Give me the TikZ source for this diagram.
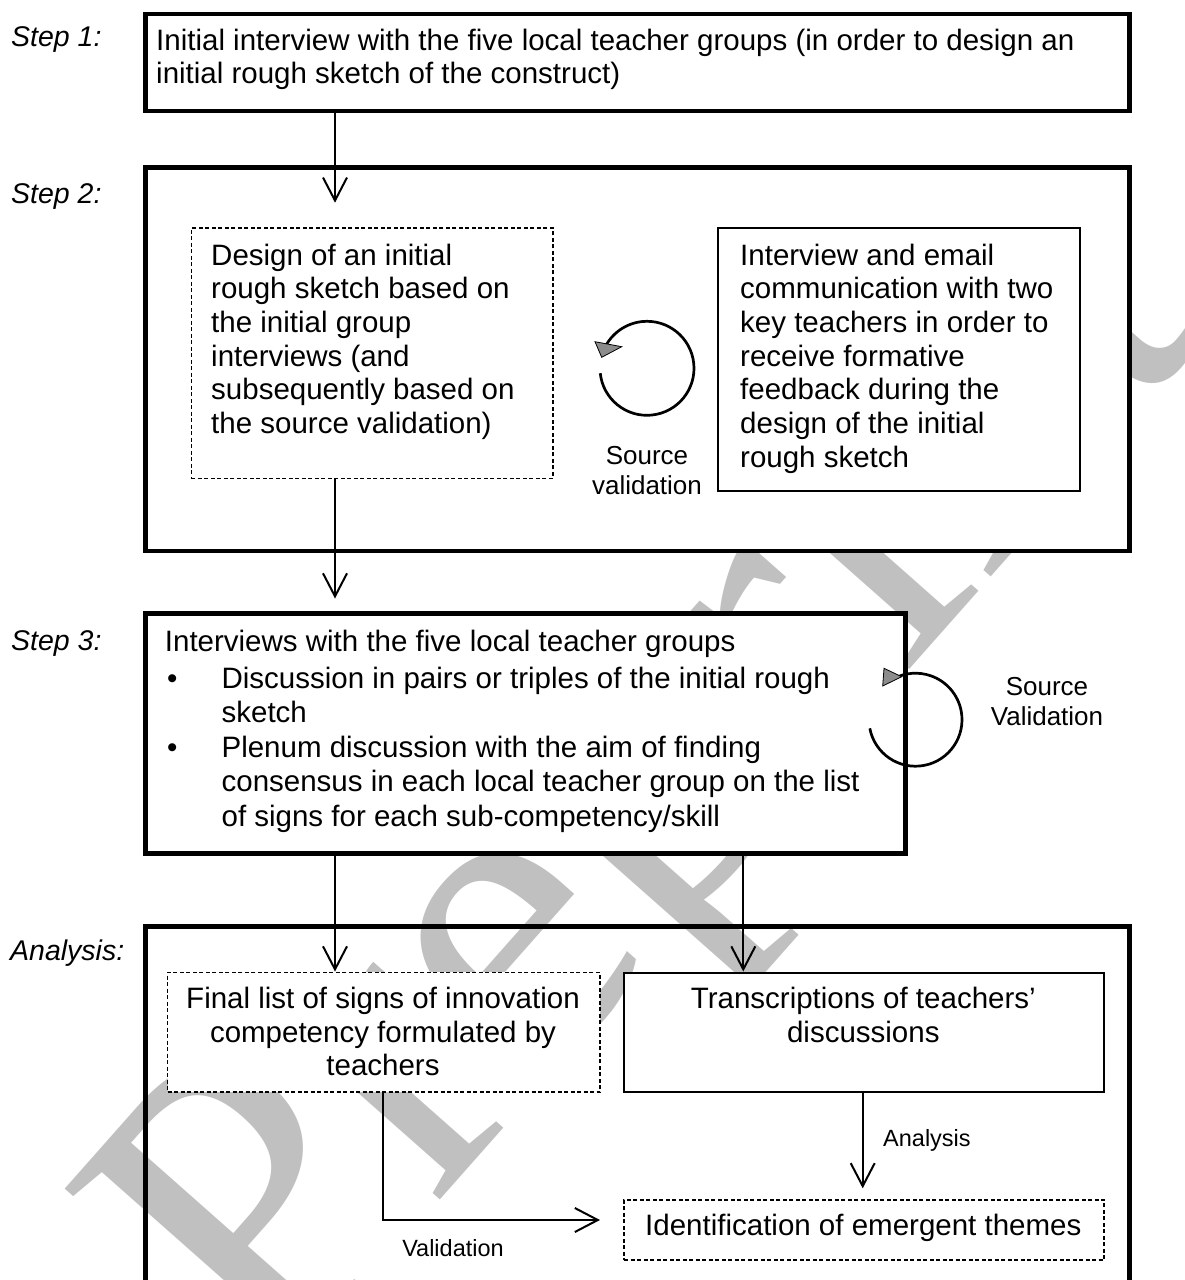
\documentclass[tikz,border=0pt]{standalone}
\usepackage{fontspec}
\setmainfont{Liberation Sans}
\newfontfamily\wmfont{Liberation Serif}
\usetikzlibrary{arrows.meta}
\definecolor{wmgray}{RGB}{192,192,192}
\definecolor{headgray}{RGB}{140,140,140}
\newcommand\fsmain{\fontsize{29.5}{33.6}\selectfont}
\newcommand\fsmid{\fontsize{26}{30}\selectfont}
\newcommand\fssmall{\fontsize{23.5}{27}\selectfont}
\newcommand\fsstep{\fontsize{28.5}{33}\selectfont\itshape}
\tikzset{
  bigbox/.style={draw, line width=4.5pt, fill=white, inner sep=0pt, anchor=north west},
  openbox/.style={draw, line width=4.5pt, inner sep=0pt, anchor=north west},
  solidbox/.style={draw, line width=2pt, fill=white, inner sep=0pt, anchor=north west},
  dashbox/.style={draw, line width=1.6pt, dash pattern=on 4pt off 2.5pt, fill=white, inner sep=0pt, anchor=north west},
  arr/.style={line width=2pt, -{Straight Barb[length=23pt, width=24pt, line width=2pt]}},
  txt/.style={anchor=base west, inner sep=0pt, font=\fsmain},
  ctxt/.style={anchor=base, inner sep=0pt, font=\fsmain},
  steplabel/.style={anchor=base west, inner sep=0pt, font=\fsstep},
  midlabel/.style={anchor=base, inner sep=0pt, font=\fsmid},
  smalllabel/.style={anchor=base, inner sep=0pt, font=\fssmall},
  loop/.style={line width=2.7pt},
  loophead/.style={fill=headgray, draw=black, line width=0.8pt, line join=miter},
  wm/.style={rotate=48.5, anchor=base west, inner sep=0pt, text=wmgray, font=\wmfont\fontsize{440}{440}\selectfont}
}
\begin{document}
\begin{tikzpicture}[x=1pt, y=-1pt]
\useasboundingbox (0,0) rectangle (1185,1280);
\clip (0,0) rectangle (1185,1280);
\fill[white] (0,0) rectangle (1185,1280);

% watermark
\node[wm] (wmark) at (272,1390) {Preprint};

% boxes
\node[openbox, minimum width=984pt, minimum height=396pt] (ana) at (143,924) {};
\node[bigbox, minimum width=984pt, minimum height=97pt] (step1) at (143,11.5) {};
\node[bigbox, minimum width=984pt, minimum height=383.5pt] (step2) at (143,165) {};
\node[bigbox, minimum width=760pt, minimum height=240pt] (step3) at (143,611) {};
\node[dashbox, minimum width=361.5pt, minimum height=250.2pt] (d1) at (190.5,227.3) {};
\node[solidbox, minimum width=362.3pt, minimum height=262.7pt] (r1) at (717,227.3) {};
\node[dashbox, minimum width=432.5pt, minimum height=119.7pt] (f1) at (166.8,971.5) {};
\node[solidbox, minimum width=480.1pt, minimum height=119.7pt] (t1) at (623.3,971.5) {};
\node[dashbox, minimum width=480.1pt, minimum height=60.3pt] (id1) at (623.3,1199) {};

% step labels
\node[steplabel] (s1lab) at (11,46) {Step 1:};
\node[steplabel] (s2lab) at (11,203) {Step 2:};
\node[steplabel] (s3lab) at (11,650) {Step 3:};
\node[steplabel] (analab) at (10,960) {Analysis:};

% step 1 text
\node[txt] (s1a) at (156,50) {Initial interview with the five local teacher groups (in order to design an};
\node[txt] (s1b) at (156,83) {initial rough sketch of the construct)};

% step 2 texts
\foreach \t [count=\i from 0] in {Design of an initial, rough sketch based on, the initial group, interviews (and, subsequently based on, the source validation)}
  \node[txt] (dl\i) at (211,265+33.7*\i) {\t};
\foreach \t [count=\i from 0] in {Interview and email, communication with two, key teachers in order to, receive formative, feedback during the, design of the initial, rough sketch}
  \node[txt] (rl\i) at (740,265+33.7*\i) {\t};

% step 3 text
\node[txt] (s3a) at (164.7,651) {Interviews with the five local teacher groups};
\node[ctxt] (bul1) at (172.3,688) {•};
\node[txt] (s3b) at (221.4,688) {Discussion in pairs or triples of the initial rough};
\node[txt] (s3c) at (221.4,722.5) {sketch};
\node[ctxt] (bul2) at (172.3,757) {•};
\node[txt] (s3d) at (221.4,757) {Plenum discussion with the aim of finding};
\node[txt] (s3e) at (221.4,791.5) {consensus in each local teacher group on the list};
\node[txt] (s3f) at (221.4,826) {of signs for each sub-competency/skill};

% analysis texts
\node[ctxt] (f1a) at (383,1008) {Final list of signs of innovation};
\node[ctxt] (f1b) at (383,1042) {competency formulated by};
\node[ctxt] (f1c) at (383,1075) {teachers};
\node[ctxt] (t1a) at (863.3,1008) {Transcriptions of teachers’};
\node[ctxt] (t1b) at (863.3,1042) {discussions};
\node[ctxt] (id1a) at (863.3,1235) {Identification of emergent themes};

% source validation loops
\coordinate (c2) at (647,368.3);
\draw[loop] (c2) ++(-186:47) arc[start angle=-186, end angle=-515, radius=47];
\draw[loophead] (595,341.7) -- (601.7,357.3) -- (621.7,346.7) -- cycle;
\node[midlabel] (sv1a) at (647,464) {Source};
\node[midlabel] (sv1b) at (647,494) {validation};

\coordinate (c3) at (915.5,719.7);
\draw[loop] (c3) ++(-190.7:46.5) arc[start angle=-190.7, end angle=-478, radius=46.5];
\draw[loophead] (884,668.3) -- (882.7,686) -- (901.7,676.7) -- cycle;
\node[midlabel] (sv2a) at (1047,695.5) {Source};
\node[midlabel] (sv2b) at (1047,725) {Validation};

% connectors
\coordinate (a1e) at (335,202.7);
\draw[arr] (step1.south -| a1e) -- (a1e);
\coordinate (a2e) at (335,598.5);
\draw[arr] (d1.south -| a2e) -- (a2e);
\coordinate (xl) at (335,0);
\coordinate (xr) at (743.3,0);
\draw[arr] (step3.south -| xl) -- (f1.north -| xl);
\draw[arr] (step3.south -| xr) -- (t1.north -| xr);
\coordinate (a5e) at (862.7,1188.3);
\draw[arr] (t1.south -| a5e) -- (a5e);
\node[anchor=base west, inner sep=0pt, font=\fssmall] (alab) at (883,1146.5) {Analysis};
\coordinate (vc) at (382.7,1220);
\coordinate (ve) at (600,1220);
\draw[arr] (f1.south -| vc) -- (vc) -- (ve);
\node[smalllabel] (vlab) at (453,1256.5) {Validation};
\end{tikzpicture}
\end{document}
